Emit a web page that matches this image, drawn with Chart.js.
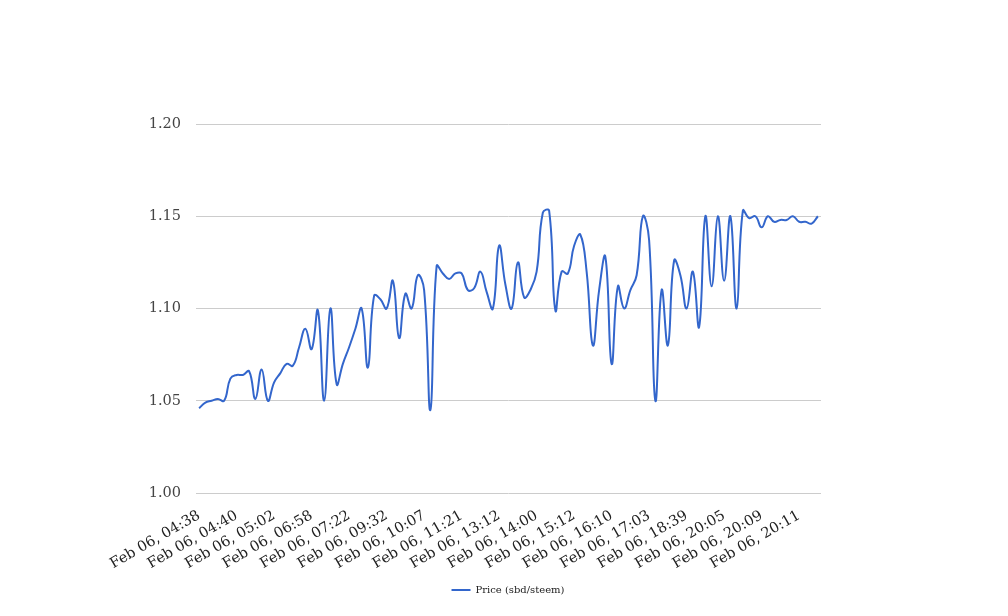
<!DOCTYPE html>
<html>
<head>
<meta charset="utf-8">
<script src="https://cdn.jsdelivr.net/npm/chart.js@4"></script>
<style>
  html, body { margin: 0; padding: 0; background: #fff; }
</style>
</head>
<body>
<canvas id="chart" width="1008" height="616"></canvas>
<script>
// tick labels shown under the x axis (one every 6 points)
var tickLabels = ['Feb 06, 04:38', 'Feb 06, 04:40', 'Feb 06, 05:02', 'Feb 06, 06:58',
    'Feb 06, 07:22', 'Feb 06, 09:32', 'Feb 06, 10:07', 'Feb 06, 11:21',
    'Feb 06, 13:12', 'Feb 06, 14:00', 'Feb 06, 15:12', 'Feb 06, 16:10',
    'Feb 06, 17:03', 'Feb 06, 18:39', 'Feb 06, 20:05', 'Feb 06, 20:09',
    'Feb 06, 20:11'];
var labelEvery = 6;

var seriesName = 'Price (sbd/steem)';
var price = [
    1.046, 1.049, 1.050, 1.051, 1.050, 1.062, 1.064, 1.064, 1.066, 1.051,
    1.067, 1.050, 1.060, 1.065, 1.070, 1.069, 1.079, 1.089, 1.078, 1.099,
    1.050, 1.100, 1.059, 1.070, 1.079, 1.089, 1.100, 1.068, 1.107, 1.105,
    1.100, 1.115, 1.084, 1.108, 1.100, 1.118, 1.110, 1.045, 1.123, 1.119,
    1.116, 1.119, 1.119, 1.110, 1.111, 1.120, 1.109, 1.100, 1.134, 1.113,
    1.100, 1.125, 1.106, 1.110, 1.120, 1.152, 1.153, 1.099, 1.120, 1.119,
    1.134, 1.140, 1.120, 1.080, 1.110, 1.128, 1.070, 1.112, 1.100, 1.110,
    1.118, 1.150, 1.137, 1.050, 1.110, 1.080, 1.126, 1.118, 1.100, 1.120,
    1.090, 1.150, 1.112, 1.150, 1.115, 1.150, 1.100, 1.153, 1.149, 1.150,
    1.144, 1.150, 1.147, 1.148, 1.148, 1.150, 1.147, 1.147, 1.146, 1.150
];

// category labels: the named tick label on every 6th point
var labels = price.map(function (d, i) {
    return i % labelEvery === 0 ? tickLabels[i / labelEvery] : '';
});

var serif = 'DejaVu Serif';

var chart = new Chart('chart', {
    type: 'line',
    data: {
        labels: labels,
        datasets: [
            {
                label: seriesName,
                data: price,
                borderColor: '#3366cc',
                backgroundColor: '#3366cc',
                borderWidth: 2,
                pointRadius: 0,
                tension: 0.45,
                fill: false
            }
        ]
    },
    options: {
        responsive: false,
        animation: false,
        layout: {
            padding: { left: 8, right: 0, top: 124, bottom: 11 }
        },
        plugins: {
            tooltip: { enabled: false },
            legend: {
                display: true,
                position: 'bottom',
                labels: {
                    usePointStyle: true,
                    pointStyle: 'line',
                    pointStyleWidth: 19,
                    boxHeight: 10,
                    padding: 10,
                    color: '#222',
                    font: { family: serif, size: 10 }
                }
            }
        },
        scales: {
            x: {
                offset: true,
                grid: { display: false },
                border: { display: false },
                ticks: {
                    autoSkip: false,
                    minRotation: 30,
                    maxRotation: 30,
                    padding: 6,
                    color: '#222',
                    font: { family: serif, size: 14.5 }
                },
                afterFit: function (scale) { scale.height = 82; }
            },
            y: {
                min: 1.0,
                max: 1.2,
                grid: { color: '#cccccc', drawTicks: false },
                border: { display: false },
                ticks: {
                    stepSize: 0.05,
                    padding: 15,
                    color: '#444',
                    font: { family: serif, size: 14.5 },
                    callback: function (v) { return v.toFixed(2); }
                },
                afterFit: function (scale) { scale.width = 188; }
            },
            // empty right margin so the legend centres on the whole page
            gap: {
                position: 'right',
                min: 0,
                max: 1,
                grid: { display: false },
                border: { display: false },
                ticks: { display: false },
                afterFit: function (scale) { scale.width = 187; }
            }
        }
    }
});
</script>
</body>
</html>
